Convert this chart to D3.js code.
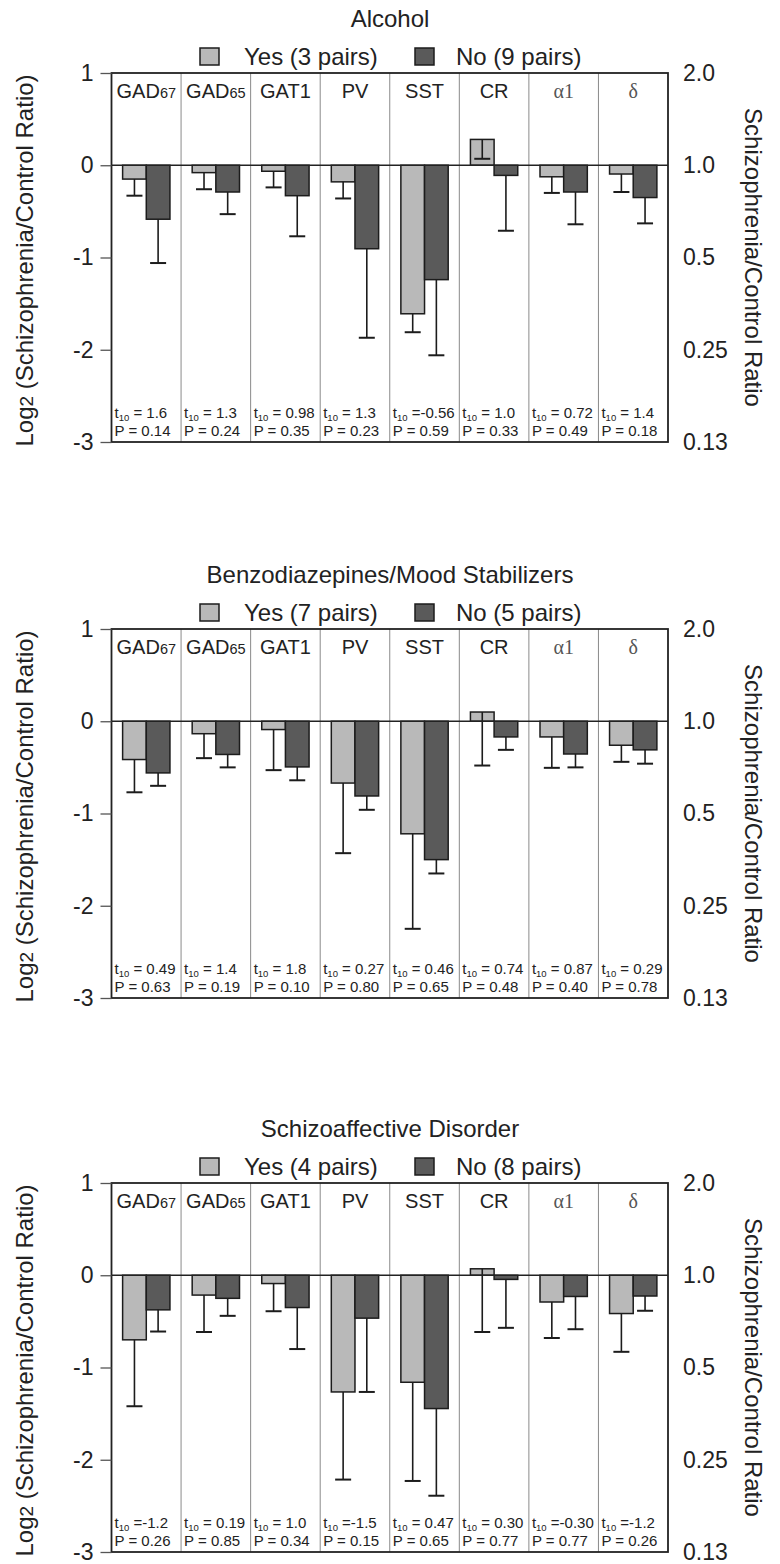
<!DOCTYPE html>
<html>
<head>
<meta charset="utf-8">
<script src="https://cdn.jsdelivr.net/npm/d3@7"></script>
<style>
  body { margin: 0; background: #fff; }
  text { font-family: "Liberation Sans", Arial, sans-serif; fill: #222; }
</style>
</head>
<body>
<script>
// genes along the x axis, same for all three panels
const genes = ["GAD67", "GAD65", "GAT1", "PV", "SST", "CR", "α1", "δ"];

const panelTitles = ["Alcohol", "Benzodiazepines/Mood Stabilizers", "Schizoaffective Disorder"];
const yesLabels = ["Yes (3 pairs)", "Yes (7 pairs)", "Yes (4 pairs)"];
const noLabels = ["No (9 pairs)", "No (5 pairs)", "No (8 pairs)"];

// log2 ratio means and SD (drawn downward only)
const alcoholYes = [-0.15, -0.08, -0.065, -0.18, -1.61, 0.28, -0.125, -0.095];
const alcoholYesSd = [0.18, 0.18, 0.175, 0.18, 0.20, 0.21, 0.175, 0.195];
const alcoholNo = [-0.585, -0.29, -0.33, -0.905, -1.24, -0.11, -0.29, -0.35];
const alcoholNoSd = [0.475, 0.24, 0.44, 0.965, 0.82, 0.60, 0.35, 0.28];

const benzoYes = [-0.415, -0.135, -0.09, -0.67, -1.22, 0.10, -0.17, -0.26];
const benzoYesSd = [0.355, 0.265, 0.44, 0.76, 1.03, 0.58, 0.335, 0.18];
const benzoNo = [-0.56, -0.36, -0.495, -0.81, -1.50, -0.17, -0.355, -0.31];
const benzoNoSd = [0.14, 0.14, 0.145, 0.15, 0.15, 0.14, 0.145, 0.15];

const schizoYes = [-0.70, -0.215, -0.09, -1.265, -1.16, 0.07, -0.29, -0.415];
const schizoYesSd = [0.72, 0.40, 0.30, 0.95, 1.07, 0.685, 0.39, 0.415];
const schizoNo = [-0.375, -0.25, -0.35, -0.465, -1.445, -0.045, -0.23, -0.225];
const schizoNoSd = [0.235, 0.19, 0.45, 0.80, 0.945, 0.525, 0.355, 0.16];

// t statistics and P values printed at the foot of each column
const alcoholT = ["1.6", "1.3", "0.98", "1.3", "-0.56", "1.0", "0.72", "1.4"];
const alcoholP = ["0.14", "0.24", "0.35", "0.23", "0.59", "0.33", "0.49", "0.18"];
const benzoT = ["0.49", "1.4", "1.8", "0.27", "0.46", "0.74", "0.87", "0.29"];
const benzoP = ["0.63", "0.19", "0.10", "0.80", "0.65", "0.48", "0.40", "0.78"];
const schizoT = ["-1.2", "0.19", "1.0", "-1.5", "0.47", "0.30", "-0.30", "-1.2"];
const schizoP = ["0.26", "0.85", "0.34", "0.15", "0.65", "0.77", "0.77", "0.26"];

const leftTicks = [1, 0, -1, -2, -3];
const rightTicks = [2, 1, 0.5, 0.25, 0.125];
const rightTickLabels = ["2.0", "1.0", "0.5", "0.25", "0.13"];

const panels = [
  { yes: alcoholYes, yesSd: alcoholYesSd, no: alcoholNo, noSd: alcoholNoSd, t: alcoholT, p: alcoholP },
  { yes: benzoYes, yesSd: benzoYesSd, no: benzoNo, noSd: benzoNoSd, t: benzoT, p: benzoP },
  { yes: schizoYes, yesSd: schizoYesSd, no: schizoNo, noSd: schizoNoSd, t: schizoT, p: schizoP }
];

main();

function main() {
  const width = 780;
  const height = 1564;
  const svg = d3.select("body").append("svg")
    .attr("width", width)
    .attr("height", height);

  const tops = [73, 629, 1183];
  const panelH = 369;
  const left = 111.5, right = 668;
  const ink = "#1c1c1c";

  panels.forEach((pd, i) => {
    const top = tops[i];
    const bottom = top + panelH;
    const g = svg.append("g");

    const y = d3.scaleLinear().domain([-3, 1]).range([bottom, top]);
    const yRatio = d3.scaleLog().base(2).domain([0.125, 2]).range([bottom, top]);
    const x = d3.scaleBand().domain(genes).range([left, right]);
    const xs = d3.scaleBand().domain(["yes", "no"]).range([0, x.bandwidth()])
      .paddingOuter(0.47);

    // column separators
    g.selectAll(".sep").data(genes.slice(1)).join("line")
      .attr("x1", d => x(d)).attr("x2", d => x(d))
      .attr("y1", top).attr("y2", bottom)
      .attr("stroke", "#8a8a8a").attr("stroke-width", 1);

    // header gene names
    const hdr = g.selectAll(".hdr").data(genes).join("text")
      .attr("x", d => x(d) + x.bandwidth() / 2)
      .attr("y", top + 25)
      .attr("text-anchor", "middle")
      .style("font-size", "20px");
    hdr.each(function(d) {
      const t = d3.select(this);
      const m = d.match(/^(GAD)(\d+)$/);
      if (m) {
        t.append("tspan").text(m[1]);
        t.append("tspan").style("font-size", "14.5px").text(m[2]);
      } else if (d === "α1" || d === "δ") {
        t.style("font-family", "'Liberation Serif', serif").style("fill", "#555").text(d);
      } else {
        t.text(d);
      }
    });

    // bars
    const rows = [];
    genes.forEach((gene, j) => {
      rows.push({ gene, grp: "yes", v: pd.yes[j], sd: pd.yesSd[j] });
      rows.push({ gene, grp: "no", v: pd.no[j], sd: pd.noSd[j] });
    });

    g.selectAll(".bar").data(rows).join("rect")
      .attr("x", d => x(d.gene) + xs(d.grp))
      .attr("width", xs.bandwidth())
      .attr("y", d => y(Math.max(0, d.v)))
      .attr("height", d => Math.abs(y(d.v) - y(0)))
      .attr("fill", d => d.grp === "yes" ? "#b9b9b9" : "#5a5a5a")
      .attr("stroke", ink).attr("stroke-width", 1.5);

    // error bars (lower side)
    const cx = d => x(d.gene) + xs(d.grp) + xs.bandwidth() / 2;
    g.selectAll(".err").data(rows).join("line")
      .attr("x1", cx).attr("x2", cx)
      .attr("y1", d => y(d.v)).attr("y2", d => y(d.v - d.sd))
      .attr("stroke", ink).attr("stroke-width", 1.6);
    g.selectAll(".cap").data(rows).join("line")
      .attr("x1", d => cx(d) - 8).attr("x2", d => cx(d) + 8)
      .attr("y1", d => y(d.v - d.sd)).attr("y2", d => y(d.v - d.sd))
      .attr("stroke", ink).attr("stroke-width", 2);

    // zero line
    g.append("line")
      .attr("x1", left).attr("x2", right)
      .attr("y1", y(0)).attr("y2", y(0))
      .attr("stroke", "#222").attr("stroke-width", 1.6);

    // box
    g.append("rect")
      .attr("x", left).attr("y", top)
      .attr("width", right - left).attr("height", panelH)
      .attr("fill", "none").attr("stroke", "#222").attr("stroke-width", 1.8);

    // stats text
    const st = g.selectAll(".st").data(genes).join("g");
    st.append("text")
      .attr("x", d => x(d) + 3).attr("y", bottom - 24)
      .style("font-size", "15px")
      .each(function(d, j) {
        const t = d3.select(this);
        const val = pd.t[j];
        t.append("tspan").text("t");
        t.append("tspan").attr("dy", 3).style("font-size", "9.5px").text("10");
        t.append("tspan").attr("dy", -3).text(val.startsWith("-") ? " =" + val : " = " + val);
      });
    st.append("text")
      .attr("x", d => x(d) + 3).attr("y", bottom - 6)
      .style("font-size", "15px")
      .text((d, j) => "P = " + pd.p[j]);

    // left axis
    const la = g.append("g").attr("transform", `translate(${left},0)`)
      .call(d3.axisLeft(y).tickValues(leftTicks).tickSize(11).tickPadding(7).tickFormat(d => String(d)));
    la.select(".domain").remove();
    la.selectAll(".tick line").attr("stroke", "#555").attr("stroke-width", 1.3);
    la.selectAll(".tick text").style("font-size", "23px").attr("fill", "#222")
      .style("font-family", "'Liberation Sans', Arial, sans-serif");

    // right axis (ratio)
    const ra = g.append("g").attr("transform", `translate(${right},0)`)
      .call(d3.axisRight(yRatio).tickValues(rightTicks).tickSize(0).tickPadding(15)
        .tickFormat((d, k) => rightTickLabels[k]));
    ra.select(".domain").remove();
    ra.selectAll(".tick text").style("font-size", "23px").attr("fill", "#222")
      .style("font-family", "'Liberation Sans', Arial, sans-serif");

    // axis titles
    const ly = g.append("text")
      .attr("transform", `translate(33,${top + panelH / 2 + 3}) rotate(-90)`)
      .attr("text-anchor", "middle")
      .style("font-size", "24px");
    ly.append("tspan").text("Log");
    ly.append("tspan").style("font-size", "19px").text("2");
    ly.append("tspan").text(" (Schizophrenia/Control Ratio)");

    g.append("text")
      .attr("transform", `translate(745,${top + panelH / 2}) rotate(90)`)
      .attr("text-anchor", "middle")
      .style("font-size", "24px")
      .text("Schizophrenia/Control Ratio");

    // title
    g.append("text")
      .attr("x", 390).attr("y", top - 46)
      .attr("text-anchor", "middle")
      .style("font-size", "24px")
      .text(panelTitles[i]);

    // legend
    const leg = [
      { label: yesLabels[i], fill: "#b9b9b9", x: 200, tx: 244 },
      { label: noLabels[i], fill: "#5a5a5a", x: 415, tx: 456 }
    ];
    const lg = g.selectAll(".leg").data(leg).join("g");
    lg.append("rect")
      .attr("x", d => d.x).attr("y", top - 25)
      .attr("width", 19).attr("height", 17)
      .attr("fill", d => d.fill).attr("stroke", ink).attr("stroke-width", 1.5);
    lg.append("text")
      .attr("x", d => d.tx).attr("y", top - 8)
      .style("font-size", "24px")
      .text(d => d.label);
  });
}
</script>
</body>
</html>
